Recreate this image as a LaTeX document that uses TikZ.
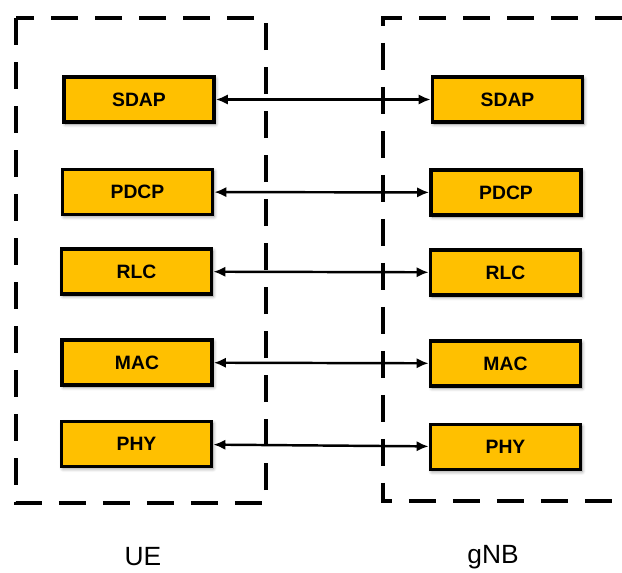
\documentclass[tikz,border=0pt]{standalone}
\usepackage{fontspec}
\setmainfont{Liberation Sans}
\usepackage{xcolor}
\usepackage{tikz}
\usetikzlibrary{shadows,shadows.blur}
\usetikzlibrary{arrows.meta}

\definecolor{layerfill}{RGB}{255,192,0}

\begin{document}
\begin{tikzpicture}[
		layer/.style={draw=black,line width=2.2pt,fill=layerfill,minimum width=3.0cm,minimum height=0.9cm,
			font=\fontsize{11}{13}\selectfont\bfseries,blur shadow={shadow blur steps=6,shadow xshift=0.3mm,shadow yshift=-0.4mm,shadow opacity=45}},
		entity/.style={draw=black,line width=2.2pt,dash pattern=on 0.54cm off 0.34cm},
		link/.style={{Latex[length=2.4mm,width=2.1mm]}-{Latex[length=2.4mm,width=2.1mm]},line width=1.4pt},
		caption/.style={font=\fontsize{15}{17}\selectfont}]
		\useasboundingbox (0,0) rectangle (12.44,-11.46);
		% UE stack
		\draw[entity] (0.32,-0.36) rectangle (5.32,-10.06);
		\node[layer] (ue sdap) at (2.78,-1.99) {SDAP};
		\node[layer] (ue pdcp) at (2.75,-3.84) {PDCP};
		\node[layer] (ue rlc) at (2.73,-5.43) {RLC};
		\node[layer] (ue mac) at (2.74,-7.25) {MAC};
		\node[layer] (ue phy) at (2.73,-8.88) {PHY};
		% gNB stack
		\draw[entity] (12.44,-0.36) -- (7.66,-0.36) -- (7.66,-10.02) -- (12.44,-10.02);
		\node[layer] (gnb sdap) at (10.15,-1.99) {SDAP};
		\node[layer] (gnb pdcp) at (10.12,-3.85) {PDCP};
		\node[layer] (gnb rlc) at (10.11,-5.45) {RLC};
		\node[layer] (gnb mac) at (10.11,-7.27) {MAC};
		\node[layer] (gnb phy) at (10.11,-8.94) {PHY};
		% peer links
		\draw[link] (ue sdap) -- (gnb sdap);
		\draw[link] (ue pdcp) -- (gnb pdcp);
		\draw[link] (ue rlc) -- (gnb rlc);
		\draw[link] (ue mac) -- (gnb mac);
		\draw[link] (ue phy) -- (gnb phy);
		\node[caption] (ue label) at (2.86,-11.14) {UE};
		\node[caption] (gnb label) at (9.86,-11.14) {gNB};
	\end{tikzpicture}
\end{document}
